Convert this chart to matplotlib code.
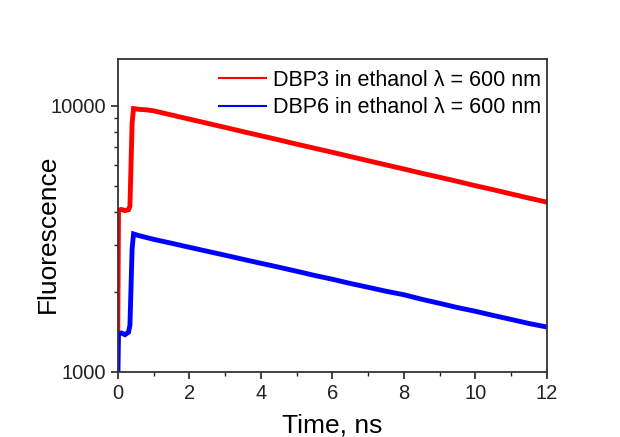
import numpy as np
import matplotlib
matplotlib.use('Agg')
import matplotlib.pyplot as plt
from matplotlib.lines import Line2D

plt.rcParams['font.family'] = ['Liberation Sans', 'DejaVu Sans']

# time axis (ns)
time_ns = [0.0, 0.02, 0.1, 0.2, 0.3, 0.34, 0.40, 0.44, 0.6, 0.8,
           1.0, 1.5, 2.0, 2.5, 3.0, 3.5, 4.0, 4.5, 5.0, 5.5, 6.0, 6.5,
           7.0, 7.5, 8.0, 8.5, 9.0, 9.5, 10.0, 10.5, 11.0, 11.5, 12.0]

dbp3 = [1450, 4050, 4080, 4040, 4070, 4200, 8600, 9770, 9700, 9660,
        9580, 9240, 8915, 8600, 8300, 8000, 7720, 7450, 7180, 6930, 6690, 6450,
        6220, 6000, 5790, 5580, 5390, 5200, 5010, 4840, 4665, 4500, 4345]

dbp6 = [900, 1390, 1400, 1380, 1410, 1500, 2900, 3300, 3250, 3200,
        3150, 3045, 2940, 2840, 2745, 2650, 2560, 2475, 2390, 2305, 2230, 2150,
        2080, 2010, 1950, 1875, 1810, 1745, 1690, 1630, 1575, 1520, 1475]

labels = ['DBP3 in ethanol \u03bb = 600 nm', 'DBP6 in ethanol \u03bb = 600 nm']

fig = plt.figure(figsize=(6.2, 4.37), dpi=100)
ax = fig.add_axes([0.190, 0.149, 0.692, 0.716])

ax.plot(time_ns, dbp3, color='#ff0000', lw=3.5, solid_joinstyle='miter')
ax.plot(time_ns, dbp6, color='#0000ff', lw=3.5, solid_joinstyle='miter')

ax.set_yscale('log')
ax.set_xlim(0, 12)
ax.set_ylim(1000, 15000)
ax.set_xticks([0, 2, 4, 6, 8, 10, 12])
ax.set_xticks(np.arange(0, 13, 1), minor=True)
ax.set_yticks([1000, 10000])
ax.set_yticklabels(['1000', '10000'])
ax.yaxis.set_minor_locator(matplotlib.ticker.LogLocator(base=10, subs=np.arange(2, 10)))
ax.yaxis.set_minor_formatter(matplotlib.ticker.NullFormatter())

ax.tick_params(which='major', direction='out', length=5, width=1.2, labelsize=14.5, colors='#222222')
ax.tick_params(which='minor', direction='out', length=3, width=1.0, colors='#222222')
for s in ax.spines.values():
    s.set_linewidth(1.3)
    s.set_color('#333333')

ax.set_xlabel('Time, ns', fontsize=19, labelpad=8)
ax.set_ylabel('Fluorescence', fontsize=19)
ax.yaxis.set_label_coords(-0.134, 0.4425)

handles = [Line2D([], [], color='#ff0000', lw=1.5), Line2D([], [], color='#0000ff', lw=1.5)]
ax.legend(handles, labels, loc='upper right', bbox_to_anchor=(1.001, 0.987),
          frameon=False, fontsize=15.5, handlelength=2.15, handletextpad=0.33,
          labelspacing=0.32, borderaxespad=0.1, borderpad=0.2)

fig.savefig('out.png', dpi=100)
